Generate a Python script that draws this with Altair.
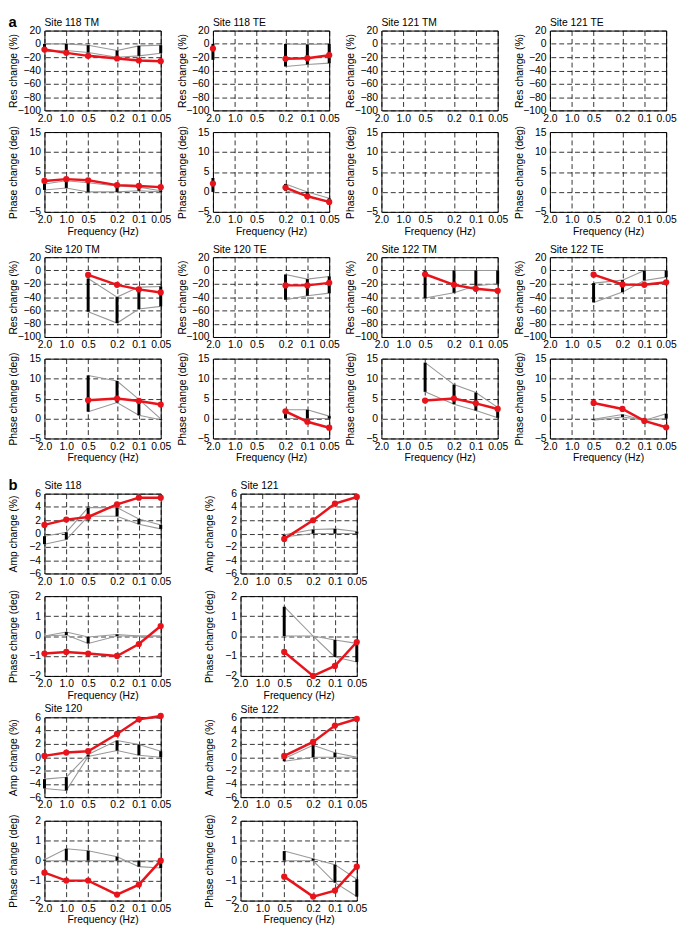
import altair as alt
import pandas as pd

FONT = "Liberation Sans"
RED = "#E8141B"
GRAY = "#999999"

FREQ = [2.0, 1.0, 0.5, 0.2, 0.1, 0.05]

# ---------------- section a ----------------
res118tm = [-8.5, -13.5, -18, -22, -25, -26]
res118tm_hi = [0, 0, -2, -10, -3, -2]
res118tm_lo = [-12, -10, -13, -20, -18, -14]
pha118tm = [2.75, 3.2, 2.9, 1.7, 1.5, 1.2]
pha118tm_hi = [2.0, 2.8, 2.3, 1.5, 1.2, 0.3]
pha118tm_lo = [0.5, 1.0, 0.0, 0.0, 0.3, 0.0]

res118te = [-7, None, None, -22.5, -21.5, -17]
res118te_hi = [0, None, None, 0, -1, 0]
res118te_lo = [-24, None, None, -34, -31, -29]
pha118te = [2.1, None, None, 1.1, -1.1, -2.5]
pha118te_hi = [3.5, None, None, 2.0, 0.0, -1.6]
pha118te_lo = [0.0, None, None, 0.3, -1.0, -2.6]

empty = [None, None, None, None, None, None]

res120tm = [None, None, -6.7, -21.6, -28.4, -33]
res120tm_hi = [None, None, -12, -40, -25, -24]
res120tm_lo = [None, None, -62, -79, -58, -54]
pha120tm = [None, None, 4.6, 5.0, 4.4, 3.5]
pha120tm_hi = [None, None, 10.8, 9.4, 4.8, -0.1]
pha120tm_lo = [None, None, 1.7, 4.0, 0.8, -0.3]

res120te = [None, None, None, -22.4, -22.4, -18.6]
res120te_hi = [None, None, None, -6, -13, -9]
res120te_lo = [None, None, None, -44, -38, -34]
pha120te = [None, None, None, 1.8, -0.8, -2.3]
pha120te_hi = [None, None, None, 2.2, 2.2, 0.6]
pha120te_lo = [None, None, None, 0, 0, 0]

res122tm = [None, None, -5.7, -21.5, -27.6, -30.5]
res122tm_hi = [None, None, 0, 0, 0, 0]
res122tm_lo = [None, None, -41.5, -33.5, -23, -20]
pha122tm = [None, None, 4.5, 5.0, 3.8, 2.4]
pha122tm_hi = [None, None, 14, 8.5, 6.5, 2.8]
pha122tm_lo = [None, None, 6.7, 3.6, 2.0, 0.2]

res122te = [None, None, -6.3, -21, -21.5, -17.7]
res122te_hi = [None, None, -19, -14.5, 0, 0]
res122te_lo = [None, None, -48, -32.5, -15, -10]
pha122te = [None, None, 3.9, 2.4, -0.6, -2.2]
pha122te_hi = [None, None, -0.2, 1.0, -0.5, 1.2]
pha122te_lo = [None, None, -0.4, 0.4, -0.4, 0.0]

# ---------------- section b ----------------
amp118 = [1.3, 2.1, 2.5, 4.4, 5.4, 5.4]
amp118_hi = [-0.4, 0.2, 3.9, 3.9, 2.2, 1.3]
amp118_lo = [-1.6, -0.9, 2.6, 2.6, 1.4, 0.7]
pb118 = [-0.88, -0.8, -0.88, -1.0, -0.4, 0.5]
pb118_hi = [0, 0.2, -0.05, 0.08, 0, 0]
pb118_lo = [0, 0.05, -0.37, 0, 0, 0]

amp121 = [None, None, -0.8, 2.0, 4.5, 5.5]
amp121_hi = [None, None, -0.2, 0.6, 0.7, 0.3]
amp121_lo = [None, None, -0.5, 0, 0, 0]
pb121 = [None, None, -0.8, -2.0, -1.5, -0.3]
pb121_hi = [None, None, 1.47, 0, -0.2, -0.37]
pb121_lo = [None, None, 0, 0, -1.05, -1.3]

amp120 = [0.2, 0.7, 0.9, 3.5, 5.7, 6.2]
amp120_hi = [-3.3, -3.0, 0.4, 2.5, 1.9, 0.9]
amp120_lo = [-4.7, -5.0, 0.1, 1.0, 0.3, 0.0]
pb120 = [-0.6, -1.0, -1.0, -1.7, -1.2, 0.0]
pb120_hi = [0.05, 0.6, 0.5, 0.2, -0.3, -0.37]
pb120_lo = [0, 0, 0, 0, 0, 0]

amp122 = [None, None, 0.2, 2.3, 4.75, 5.75]
amp122_hi = [None, None, -0.2, 1.8, 0.67, 0]
amp122_lo = [None, None, -0.6, 0, 0, 0]
pb122 = [None, None, -0.8, -1.8, -1.5, -0.3]
pb122_hi = [None, None, 0.48, 0.1, -0.2, -0.93]
pb122_lo = [None, None, 0, 0, -1.1, -1.8]

RES_TICKS = [-100, -80, -60, -40, -20, 0, 20]
PHA_TICKS = [-5, 0, 5, 10, 15]
AMP_TICKS = [-6, -4, -2, 0, 2, 4, 6]
PHB_TICKS = [-2, -1, 0, 1, 2]

W = 118
H = 81


def seg_ids(vals):
    out, s = [], 0
    for v in vals:
        if v is None:
            s += 1
        out.append(s)
    return out


def panel(red, hi, lo, ticks, ytitle, title=None, xtitle=False):
    df = pd.DataFrame({
        "freq": FREQ,
        "red": red,
        "hi": hi,
        "lo": lo,
        "rseg": seg_ids(red),
        "gseg": seg_ids(hi),
    })
    xaxis_kw = dict(
        values=FREQ,
        labelExpr="datum.value >= 1 ? format(datum.value, '.1f') : format(datum.value, '.2~f')",
        grid=True, gridDash=[5, 3], gridColor="black", gridWidth=0.8,
        ticks=False, domain=False, labelFlush=False, labelOverlap=False,
        labelPadding=3, labelFontSize=10.5, titleFontSize=10.5,
        titleFontWeight="normal", titlePadding=1, labelFont=FONT, titleFont=FONT,
        labelColor="black", titleColor="black",
    )
    if xtitle:
        xaxis = alt.Axis(title="Frequency (Hz)", **xaxis_kw)
    else:
        xaxis = alt.Axis(title=None, **xaxis_kw)
    x = alt.X("freq:Q", scale=alt.Scale(type="log", domain=[0.05, 2], reverse=True, nice=False),
              axis=xaxis)
    yscale = alt.Scale(domain=[ticks[0], ticks[-1]], nice=False, zero=False)
    yaxis = alt.Axis(
        values=ticks, title=ytitle, grid=True, gridDash=[5, 3], gridColor="black",
        gridWidth=0.8, ticks=False, domain=False, labelPadding=4, titlePadding=3,
        labelOverlap=False, minExtent=23, maxExtent=23, labelFontSize=10.5,
        titleFontSize=10.5, titleFontWeight="normal", labelFont=FONT, titleFont=FONT,
        labelColor="black", titleColor="black",
    )
    base = alt.Chart(df)
    g_hi = base.mark_line(color=GRAY, strokeWidth=1.1).transform_filter(
        "isValid(datum.hi)").encode(x=x, y=alt.Y("hi:Q", scale=yscale, axis=yaxis), detail="gseg:N")
    g_lo = base.mark_line(color=GRAY, strokeWidth=1.1).transform_filter(
        "isValid(datum.lo)").encode(x=x, y=alt.Y("lo:Q", scale=yscale, axis=yaxis), detail="gseg:N")
    bars = base.mark_rule(color="black", strokeWidth=3).transform_filter(
        "isValid(datum.hi) && isValid(datum.lo)").encode(
        x=x, y=alt.Y("hi:Q", scale=yscale, axis=yaxis), y2="lo:Q")
    r_line = base.mark_line(color=RED, strokeWidth=2.5).transform_filter(
        "isValid(datum.red)").encode(x=x, y=alt.Y("red:Q", scale=yscale, axis=yaxis), detail="rseg:N")
    r_pts = base.mark_circle(color=RED, size=40, opacity=1).transform_filter(
        "isValid(datum.red)").encode(x=x, y=alt.Y("red:Q", scale=yscale, axis=yaxis))
    ch = alt.layer(g_hi, g_lo, bars, r_line, r_pts).properties(width=W, height=H)
    if title:
        ch = ch.properties(title=alt.TitleParams(
            title, anchor="start", frame="group", fontSize=10.5, fontWeight="normal",
            font=FONT, offset=-3, color="black"))
    return ch


RT = "Res change (%)"
PT = "Phase change (deg)"
AT = "Amp change (%)"
SA = 5
SB = 33


def sec_title(t):
    return alt.TitleParams(t, anchor="start", frame="bounds", fontSize=15, fontWeight="bold",
                           font=FONT, offset=-12, color="black")


a_res1 = alt.hconcat(
    panel(res118tm, res118tm_hi, res118tm_lo, RES_TICKS, RT, "Site 118 TM"),
    panel(res118te, res118te_hi, res118te_lo, RES_TICKS, RT, "Site 118 TE"),
    panel(empty, empty, empty, RES_TICKS, RT, "Site 121 TM"),
    panel(empty, empty, empty, RES_TICKS, RT, "Site 121 TE"),
    spacing=SA)
a_pha1 = alt.hconcat(
    panel(pha118tm, pha118tm_hi, pha118tm_lo, PHA_TICKS, PT, xtitle=True),
    panel(pha118te, pha118te_hi, pha118te_lo, PHA_TICKS, PT, xtitle=True),
    panel(empty, empty, empty, PHA_TICKS, PT, xtitle=True),
    panel(empty, empty, empty, PHA_TICKS, PT, xtitle=True),
    spacing=SA)
a_res2 = alt.hconcat(
    panel(res120tm, res120tm_hi, res120tm_lo, RES_TICKS, RT, "Site 120 TM"),
    panel(res120te, res120te_hi, res120te_lo, RES_TICKS, RT, "Site 120 TE"),
    panel(res122tm, res122tm_hi, res122tm_lo, RES_TICKS, RT, "Site 122 TM"),
    panel(res122te, res122te_hi, res122te_lo, RES_TICKS, RT, "Site 122 TE"),
    spacing=SA)
a_pha2 = alt.hconcat(
    panel(pha120tm, pha120tm_hi, pha120tm_lo, PHA_TICKS, PT, xtitle=True),
    panel(pha120te, pha120te_hi, pha120te_lo, PHA_TICKS, PT, xtitle=True),
    panel(pha122tm, pha122tm_hi, pha122tm_lo, PHA_TICKS, PT, xtitle=True),
    panel(pha122te, pha122te_hi, pha122te_lo, PHA_TICKS, PT, xtitle=True),
    spacing=SA)

b_amp1 = alt.hconcat(
    panel(amp118, amp118_hi, amp118_lo, AMP_TICKS, AT, "Site 118"),
    panel(amp121, amp121_hi, amp121_lo, AMP_TICKS, AT, "Site 121"),
    spacing=SB)
b_pha1 = alt.hconcat(
    panel(pb118, pb118_hi, pb118_lo, PHB_TICKS, PT, xtitle=True),
    panel(pb121, pb121_hi, pb121_lo, PHB_TICKS, PT, xtitle=True),
    spacing=SB)
b_amp2 = alt.hconcat(
    panel(amp120, amp120_hi, amp120_lo, AMP_TICKS, AT, "Site 120"),
    panel(amp122, amp122_hi, amp122_lo, AMP_TICKS, AT, "Site 122"),
    spacing=SB)
b_pha2 = alt.hconcat(
    panel(pb120, pb120_hi, pb120_lo, PHB_TICKS, PT, xtitle=True),
    panel(pb122, pb122_hi, pb122_lo, PHB_TICKS, PT, xtitle=True),
    spacing=SB)

sec_a = alt.vconcat(
    alt.vconcat(a_res1, a_pha1, spacing=0),
    alt.vconcat(a_res2, a_pha2, spacing=0),
    spacing=7).properties(title=sec_title("a"))
sec_b = alt.vconcat(
    alt.vconcat(b_amp1, b_pha1, spacing=1),
    alt.vconcat(b_amp2, b_pha2, spacing=2),
    spacing=1).properties(title=sec_title("b"))

chart = alt.vconcat(sec_a, sec_b, spacing=14).properties(
    padding=0, background="white"
).configure_view(stroke="black", strokeWidth=1)

chart.save("out.html", embed_options={"renderer": "svg", "actions": False})
